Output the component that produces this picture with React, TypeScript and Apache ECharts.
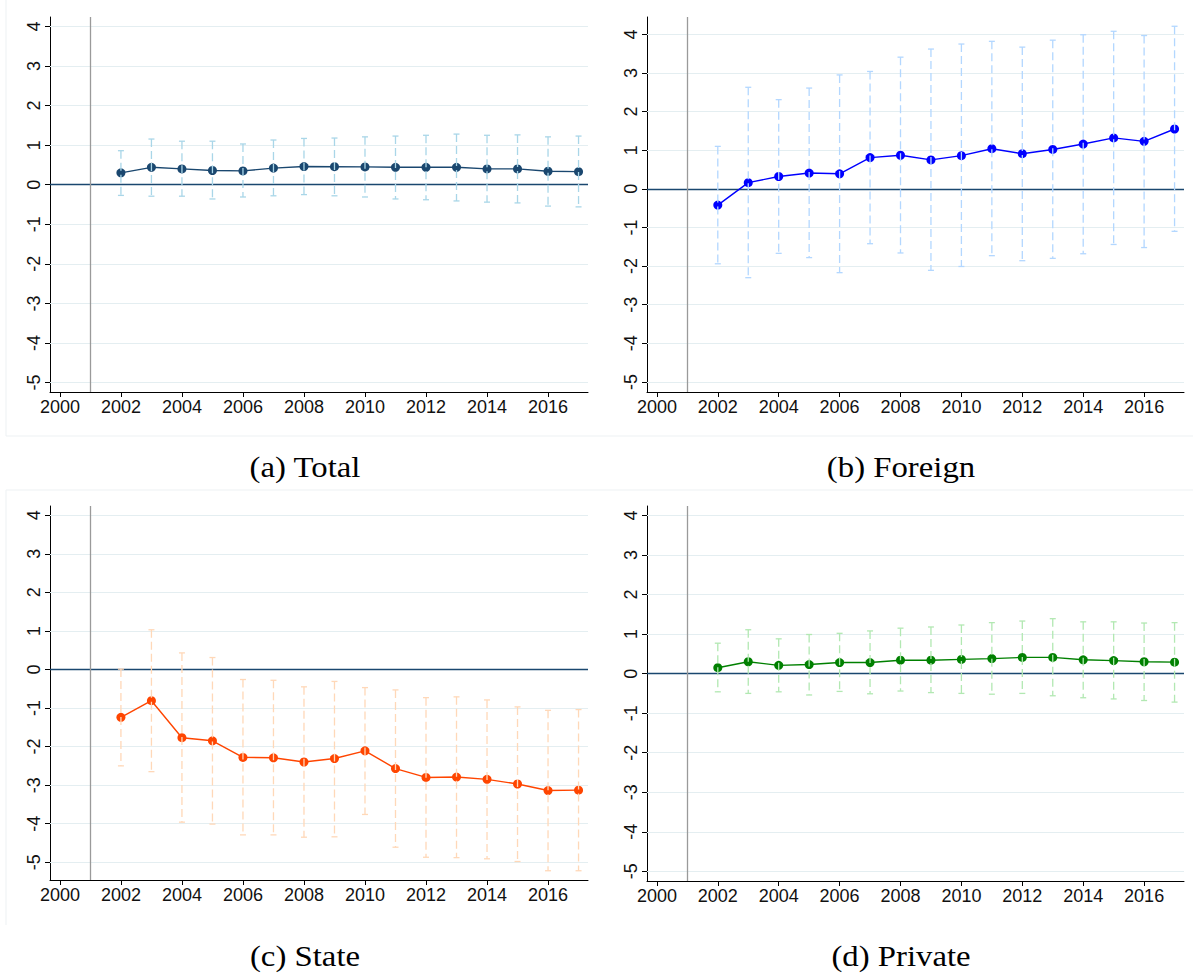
import React, { useEffect, useRef } from "react";
import * as echarts from "echarts";

const years = [2002, 2003, 2004, 2005, 2006, 2007, 2008, 2009, 2010, 2011, 2012, 2013, 2014, 2015, 2016, 2017];
const xTicks = [2000, 2002, 2004, 2006, 2008, 2010, 2012, 2014, 2016];
const yTicks = [-5, -4, -3, -2, -1, 0, 1, 2, 3, 4];
const treatYear = 2001;

const totalEst = [0.30, 0.44, 0.40, 0.36, 0.35, 0.42, 0.46, 0.455, 0.45, 0.44, 0.44, 0.44, 0.40, 0.40, 0.34, 0.33];
const totalHi = [0.86, 1.155, 1.10, 1.10, 1.03, 1.13, 1.17, 1.18, 1.21, 1.23, 1.25, 1.28, 1.25, 1.26, 1.21, 1.23];
const totalLo = [-0.27, -0.29, -0.29, -0.36, -0.31, -0.28, -0.25, -0.28, -0.31, -0.36, -0.38, -0.41, -0.44, -0.46, -0.54, -0.56];

const foreignEst = [-0.42, 0.16, 0.32, 0.41, 0.39, 0.81, 0.87, 0.75, 0.86, 1.04, 0.91, 1.02, 1.16, 1.32, 1.23, 1.55];
const foreignHi = [1.10, 2.63, 2.31, 2.61, 2.95, 3.04, 3.41, 3.62, 3.75, 3.82, 3.67, 3.85, 3.99, 4.08, 3.97, 4.21];
const foreignLo = [-1.94, -2.30, -1.67, -1.78, -2.17, -1.42, -1.66, -2.11, -2.01, -1.73, -1.86, -1.80, -1.68, -1.44, -1.52, -1.10];

const stateEst = [-1.24, -0.81, -1.77, -1.85, -2.28, -2.29, -2.40, -2.31, -2.11, -2.57, -2.80, -2.79, -2.85, -2.97, -3.14, -3.13];
const stateHi = [0.01, 1.03, 0.43, 0.31, -0.26, -0.28, -0.45, -0.31, -0.47, -0.53, -0.73, -0.71, -0.79, -0.97, -1.06, -1.04];
const stateLo = [-2.50, -2.65, -3.96, -4.01, -4.29, -4.29, -4.35, -4.34, -3.76, -4.61, -4.87, -4.88, -4.91, -4.98, -5.22, -5.22];

const privateEst = [0.15, 0.30, 0.21, 0.23, 0.28, 0.28, 0.34, 0.34, 0.36, 0.38, 0.41, 0.41, 0.35, 0.33, 0.30, 0.29];
const privateHi = [0.77, 1.11, 0.88, 0.99, 1.02, 1.08, 1.15, 1.18, 1.23, 1.29, 1.33, 1.39, 1.31, 1.31, 1.28, 1.29];
const privateLo = [-0.46, -0.50, -0.46, -0.54, -0.45, -0.51, -0.44, -0.48, -0.50, -0.52, -0.50, -0.56, -0.61, -0.64, -0.68, -0.72];

const panels = [
  { caption: "(a) Total", est: totalEst, hi: totalHi, lo: totalLo, color: "#1a476f", ciColor: "#a9d6e8",
    grid: { left: 50, top: 17, width: 538, height: 375 }, yMin: -5.24, yMax: 4.24, cap: [305, 467],
    frame: [[6, 0, 6, 436], [6, 436, 595, 436]] },
  { caption: "(b) Foreign", est: foreignEst, hi: foreignHi, lo: foreignLo, color: "#0000ff", ciColor: "#b3d7ff",
    grid: { left: 647, top: 17, width: 537, height: 375 }, yMin: -5.26, yMax: 4.45, cap: [901, 467],
    frame: [[595, 436, 1193, 436]] },
  { caption: "(c) State", est: stateEst, hi: stateHi, lo: stateLo, color: "#ff4500", ciColor: "#ffd8b8",
    grid: { left: 50, top: 506, width: 538, height: 374 }, yMin: -5.46, yMax: 4.24, cap: [305, 956],
    frame: [[6, 490, 595, 490], [6, 490, 6, 925]] },
  { caption: "(d) Private", est: privateEst, hi: privateHi, lo: privateLo, color: "#008000", ciColor: "#b2e8b2",
    grid: { left: 647, top: 506, width: 537, height: 375 }, yMin: -5.245, yMax: 4.24, cap: [901, 956],
    frame: [[595, 490, 1193, 490]] },
];

export default function App() {
  const ref = useRef<HTMLDivElement>(null);
  useEffect(() => {
    if (!ref.current) return;
    const chart = echarts.init(ref.current, null, { renderer: "svg" });
    const grids: any[] = [];
    const xAxes: any[] = [];
    const yAxes: any[] = [];
    const series: any[] = [];
    const graphics: any[] = [];
    panels.forEach((p, i) => {
      grids.push({ ...p.grid, containLabel: false });
      xAxes.push({
        type: "value", gridIndex: i, min: 1999.675, max: 2017.31,
        axisLine: { show: true, onZero: false, lineStyle: { color: "#000", width: 1 } },
        axisTick: { show: true, length: 5, customValues: xTicks, lineStyle: { color: "#000", width: 1 } },
        axisLabel: { show: true, customValues: xTicks, margin: 6, color: "#111", fontSize: 18, fontFamily: "Liberation Sans",
          formatter: (v: number) => String(v) },
        splitLine: { show: false },
      });
      yAxes.push({
        type: "value", gridIndex: i, min: p.yMin, max: p.yMax,
        axisLine: { show: true, onZero: false, lineStyle: { color: "#000", width: 1 } },
        axisTick: { show: true, length: 5, customValues: yTicks, lineStyle: { color: "#000", width: 1 } },
        axisLabel: { show: true, customValues: yTicks, rotate: 90, margin: 7, color: "#111", fontSize: 18, fontFamily: "Liberation Sans",
          formatter: (v: number) => String(v) },
        splitLine: { show: false },
      });
      series.push({
        type: "line", xAxisIndex: i, yAxisIndex: i, z: 3,
        data: years.map((y, k) => [y, p.est[k]]),
        symbol: "circle", symbolSize: 9, showSymbol: true,
        itemStyle: { color: p.color },
        lineStyle: { color: p.color, width: 1.4 },
        markLine: {
          silent: true, symbol: "none", z: 1, animation: false,
          label: { show: false },
          data: [
            ...yTicks.filter((v) => v !== 0).map((v) => ({ yAxis: v, lineStyle: { color: "#e4eef1", width: 1, type: "solid" } })),
            { yAxis: 0, lineStyle: { color: "#1a476f", width: 1.3, type: "solid" } },
            { xAxis: treatYear, lineStyle: { color: "#9a9a9a", width: 1.3, type: "solid" } },
          ],
        },
      });
      const ciColor = p.ciColor;
      series.push({
        type: "custom", xAxisIndex: i, yAxisIndex: i, z: 4,
        data: years.map((y, k) => [y, p.lo[k], p.hi[k]]),
        encode: { x: 0, y: [1, 2] },
        renderItem: (params: any, api: any) => {
          const x = api.value(0);
          const lo = api.coord([x, api.value(1)]);
          const hi = api.coord([x, api.value(2)]);
          const c = 3;
          return {
            type: "group",
            children: [
              { type: "line", shape: { x1: hi[0], y1: hi[1], x2: lo[0], y2: lo[1] },
                style: { stroke: ciColor, lineWidth: 1.3, lineDash: [8, 4], fill: null } },
              { type: "line", shape: { x1: hi[0] - c, y1: hi[1], x2: hi[0] + c, y2: hi[1] },
                style: { stroke: ciColor, lineWidth: 1.3, fill: null } },
              { type: "line", shape: { x1: lo[0] - c, y1: lo[1], x2: lo[0] + c, y2: lo[1] },
                style: { stroke: ciColor, lineWidth: 1.3, fill: null } },
            ],
          };
        },
      });
      p.frame.forEach((f) => {
        graphics.push({
          type: "line", silent: true, z: 0,
          shape: { x1: f[0], y1: f[1], x2: f[2], y2: f[3] },
          style: { stroke: "#edf1f3", lineWidth: 1 },
        });
      });
      graphics.push({
        type: "text", x: p.cap[0], y: p.cap[1], scaleX: 1.13, silent: true,
        style: { text: p.caption, fill: "#000", fontSize: 29, fontFamily: "Liberation Serif", align: "center", verticalAlign: "middle" },
      });
    });
    chart.setOption({
      animation: false,
      backgroundColor: "#ffffff",
      grid: grids,
      xAxis: xAxes,
      yAxis: yAxes,
      series,
      graphic: graphics,
    });
    return () => chart.dispose();
  }, []);
  return <div ref={ref} style={{ position: "absolute", left: 0, top: 0, width: 1193, height: 976 }} />;
}
